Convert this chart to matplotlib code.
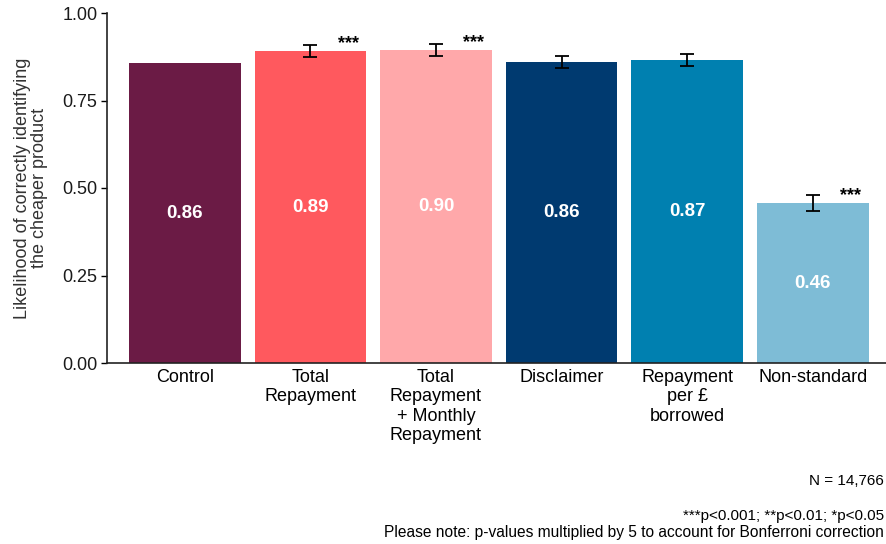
import matplotlib
matplotlib.use("Agg")
import matplotlib.pyplot as plt

plt.rcParams['font.family'] = ['Liberation Sans', 'DejaVu Sans']

categories = ["Control", "Total\nRepayment", "Total\nRepayment\n+ Monthly\nRepayment",
              "Disclaimer", "Repayment\nper £\nborrowed", "Non-standard"]
values = [0.857, 0.891, 0.894, 0.860, 0.866, 0.457]
errors = [None, 0.017, 0.017, 0.017, 0.018, 0.024]
labels = ["0.86", "0.89", "0.90", "0.86", "0.87", "0.46"]
stars = ["", "***", "***", "", "", "***"]
colors = ["#6B1B45", "#FF595E", "#FFA8AA", "#003A70", "#0080B0", "#7EBCD6"]

fig = plt.figure(figsize=(8.86, 5.44), dpi=100)
ax = fig.add_axes([107/886, 1-363/544, 781/886, 350/544])

x = list(range(len(categories)))
ax.bar(x, values, width=0.89, color=colors, zorder=2)
for i, (v, e) in enumerate(zip(values, errors)):
    if e is not None:
        ax.errorbar(i, v, yerr=e, color="black", capsize=5, elinewidth=1.3,
                    capthick=1.3, zorder=3)
    ax.text(i, v/2, labels[i], ha="center", va="center", color="white",
            fontsize=13.5, fontweight="bold", zorder=4)
    if stars[i]:
        ax.text(i + 0.3, v + 0.022, stars[i], ha="center", va="center",
                fontsize=13, fontweight="bold", color="black", zorder=4)

ax.set_xlim(-0.62, 5.6)
ax.set_ylim(0, 1.0)
ax.set_yticks([0, 0.25, 0.5, 0.75, 1.0])
ax.set_yticklabels(["0.00", "0.25", "0.50", "0.75", "1.00"])
ax.set_xticks(x)
ax.set_xticklabels(categories, fontsize=13, color="black", linespacing=1.2)
ax.tick_params(axis="y", labelsize=13, labelcolor="#1a1a1a", length=4, width=1, pad=3)
ax.tick_params(axis="x", length=0, pad=4)
for s in ["top", "right"]:
    ax.spines[s].set_visible(False)
for s in ["left", "bottom"]:
    ax.spines[s].set_linewidth(1.2)
    ax.spines[s].set_color("#222222")
ax.set_ylabel("Likelihood of correctly identifying\nthe cheaper product", fontsize=13,
              color="#333333", linespacing=1.0, labelpad=10)

fig.text(884/886, 1-481/544, "N = 14,766", ha="right", va="center", fontsize=11)
fig.text(884/886, 1-516/544, "***p<0.001; **p<0.01; *p<0.05", ha="right",
         va="center", fontsize=11)
fig.text(884/886, 1-532/544,
         "Please note: p-values multiplied by 5 to account for Bonferroni correction",
         ha="right", va="center", fontsize=11.2)

fig.savefig("out.png", dpi=100)
